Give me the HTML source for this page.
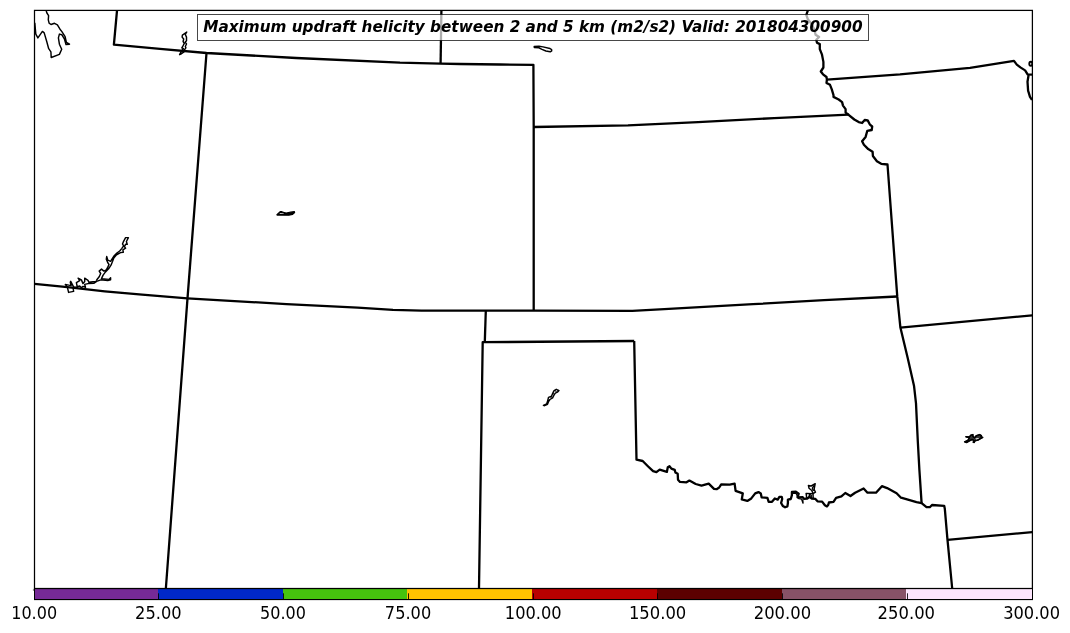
<!DOCTYPE html>
<html><head><meta charset="utf-8"><title>Maximum updraft helicity</title>
<style>
html,body{margin:0;padding:0;background:#fff;}
body{width:1070px;height:633px;position:relative;overflow:hidden;}
</style></head><body>
<svg width="1070" height="633" viewBox="0 0 1070 633" style="position:absolute;left:0;top:0">
<defs><clipPath id="ax"><rect x="34.5" y="10.5" width="998" height="578"/></clipPath></defs>
<g clip-path="url(#ax)" fill="none" stroke="#000" stroke-linejoin="round" stroke-linecap="butt">
<g stroke-width="2.3">
<path d="M117.0,10.6 L113.9,44.7 L160.0,48.8 L206.5,53.0 L296.2,58.0 L400.0,62.7 L420.0,63.1 L440.6,63.6 L460.0,64.0 L500.0,64.5 L533.4,64.8 L533.7,127.0 L533.7,310.7"/>
<path d="M206.5,53.0 L187.5,298.3 L165.9,588.0"/>
<path d="M441.4,10.5 L440.6,63.6"/>
<path d="M34.5,283.9 L67.4,287.2 L104.8,291.3 L142.1,294.7 L187.4,298.3 L286.5,304.1 L357.6,307.7 L393.0,309.8 L421.5,310.6 L485.6,310.7 L535.0,310.7 L632.3,310.8 L664.3,309.2 L753.0,304.2 L824.0,300.2 L897.1,296.5"/>
<path d="M533.8,127.0 L628.0,125.4 L698.0,122.2 L774.2,118.1 L848.6,114.6"/>
<path d="M485.8,310.7 L484.8,341.8"/>
<path d="M634.2,341.0 L482.7,342.2 L479.0,588.0"/>
<path d="M634.2,341.0 L636.5,459.7 L642.7,461.0 L647.9,466.2 L653.1,471.2 L656.4,472.1 L659.7,469.6 L666.9,471.8 L667.8,467.2 L669.5,466.2 L671.4,468.6 L674.7,469.9 L675.4,472.5 L677.7,473.8 L678.0,479.7 L680.0,481.9 L686.5,482.3 L689.4,480.6 L695.7,484.0 L701.5,485.6 L708.7,483.7 L714.0,488.8 L716.6,489.2 L719.2,487.5 L721.2,484.3 L729.7,484.6 L734.6,483.6 L735.6,490.8 L742.8,493.4 L741.8,499.3 L747.3,500.9 L751.3,498.4 L755.2,493.4 L758.5,492.1 L760.8,493.4 L761.6,497.3 L767.4,497.9 L768.7,501.9 L772.0,501.8 L774.8,498.5 L777.7,499.6 L779.4,496.8 L781.7,496.8 L782.2,499.0 L781.1,503.0 L782.8,505.9 L785.1,507.3 L787.4,506.4 L787.9,503.0 L787.9,499.6 L790.8,499.0 L791.9,495.1 L791.9,491.9 L795.9,491.7 L798.7,493.6 L797.6,497.3 L802.7,497.1 L803.9,498.8 L807.3,498.5 L809.5,496.8 L811.8,498.5 L815.2,498.8 L817.5,501.3 L822.1,501.6 L824.9,505.3 L826.9,506.4 L828.3,504.7 L828.9,502.5 L833.5,501.8 L836.1,497.9 L841.4,496.4 L845.3,493.0 L850.5,496.0 L855.1,492.7 L863.6,488.5 L867.5,492.7 L876.0,492.7 L881.9,486.2 L887.1,488.1 L896.6,493.2 L901.0,497.7 L908.8,499.9 L916.5,502.1 L921.6,503.2 L926.5,507.2 L929.8,507.2 L932.0,505.0 L944.2,505.8 L944.8,508.7 L947.5,539.9 L952.2,588.5"/>
<path d="M947.5,539.9 L1032.2,532.1"/>
<path d="M807.8,10.7 L806.3,14.9 L807.8,19.2 L811.3,23.5 L814.2,29.2 L815.6,34.8 L819.1,37.0 L816.3,39.8 L817.0,42.7 L819.8,44.1 L819.8,49.1 L822.0,54.7 L823.4,61.9 L823.4,67.5 L820.8,71.5 L823.0,74.3 L826.5,77.0 L826.9,79.6 L826.5,83.0 L830.0,84.8 L831.7,89.1 L833.5,95.2 L833.5,96.9 L838.7,99.5 L842.1,102.1 L843.0,105.6 L845.6,109.1 L845.6,112.6 L848.6,114.8 L854.3,119.5 L858.7,122.1 L862.1,123.0 L864.7,120.0 L867.7,120.4 L870.0,124.7 L872.2,126.5 L871.7,130.0 L867.3,130.8 L865.6,136.9 L862.1,141.2 L863.9,144.7 L868.2,149.1 L872.6,151.7 L872.9,156.0 L876.9,161.2 L881.2,163.8 L887.5,164.5 L897.3,296.9 L900.4,327.6 L907.7,357.9 L914.0,385.7 L916.0,403.4 L917.8,441.3 L919.4,470.0 L921.6,503.2"/>
<path d="M826.9,79.6 L900.0,74.4 L970.0,67.8 L1014.0,60.9 L1016.8,64.6 L1020.4,67.4 L1025.1,70.4 L1027.6,74.4 L1032.0,74.6"/>
<path d="M900.4,327.6 L1032.2,315.3"/>
<path d="M1028.6,75.0 L1027.5,81.7 L1028.1,90.6 L1030.0,96.9 L1032.0,100.0"/>
</g><g stroke-width="1.45">
<path d="M46.2,10.8 L46.9,13.0 L48.6,15.6 L48.3,19.9 L49.1,23.2 L51.0,24.5 L54.5,23.3 L57.4,24.8 L60.0,29.2 L61.9,31.6 L65.1,36.7 L66.4,42.4 L69.5,44.2 L66.0,44.5 L64.5,39.2 L61.9,34.8 L59.4,34.1 L58.4,37.9 L59.4,44.2 L61.7,49.3 L59.4,54.4 L51.2,57.5 L50.9,51.8 L48.7,48.7 L46.8,41.7 L44.2,32.9 L42.4,31.4 L37.9,37.9 L35.8,34.1 L34.8,22.8"/>
<path d="M186.8,32.0 L182.4,35.2 L182.1,37.1 L183.7,39.0 L183.1,41.5 L184.3,43.4 L182.7,46.5 L181.8,47.8 L183.4,48.7 L181.5,51.0 L179.6,54.7 L180.8,54.1 L184.3,51.6 L184.6,49.7 L185.9,47.8 L185.3,46.5 L186.5,44.0 L185.3,42.1 L186.5,40.8 L186.5,37.1 L185.3,34.5 Z"/>
<path d="M125.6,237.6 L128.4,237.6 L126.4,241.5 L127.2,244.3 L125.6,244.3 L124.4,246.6 L125.6,248.2 L122.9,249.8 L123.3,252.2 L120.5,252.6 L116.5,254.9 L113.8,258.1 L112.6,261.3 L111.0,265.2 L108.6,268.8 L105.5,271.9 L103.1,275.1 L101.5,278.6 L109.0,279.4 L110.6,277.8 L110.6,279.8 L107.8,280.6 L100.7,279.9 L98.1,280.9 L95.0,281.5 L88.8,282.3 L88.0,280.3 L84.7,278.2 L84.7,281.5 L83.0,283.6 L81.4,279.9 L78.1,278.2 L79.7,280.7 L76.4,282.7 L77.3,287.3 L73.6,286.9 L70.7,281.3 L70.3,282.3 L71.1,285.6 L65.3,284.4 L67.4,287.3 L68.6,292.4 L73.6,291.4 L73.2,288.5 L75.0,288.0 L78.1,286.4 L79.7,286.0 L81.4,287.7 L83.0,286.4 L85.5,287.3 L84.7,284.4 L88.0,283.6 L94.1,283.2 L97.0,281.1 L96.8,279.8 L99.2,276.7 L100.7,273.5 L99.2,271.1 L101.5,269.1 L103.9,271.1 L106.3,269.9 L107.8,267.2 L109.0,264.4 L107.8,262.8 L106.3,259.3 L106.7,256.5 L107.8,260.1 L110.6,261.3 L111.8,259.3 L114.2,255.7 L116.9,253.0 L119.7,251.0 L121.7,248.6 L123.6,245.8 L122.5,243.9 L123.3,241.9 Z"/>
<path d="M534.2,46.5 L539.0,46.2 L543.0,46.9 L550.0,48.5 L551.6,49.6 L551.7,50.8 L550.2,51.8 L545.9,51.0 L542.0,49.4 L538.9,47.9 L534.3,47.5 Z"/>
<path d="M543.4,405.4 L546.7,403.8 L547.7,400.6 L548.5,397.4 L551.5,396.3 L552.6,393.6 L553.9,390.9 L556.3,389.3 L559.0,390.6 L557.4,392.2 L555.3,393.1 L553.7,395.7 L552.6,397.9 L549.9,399.5 L548.5,401.7 L547.5,404.3 L544.5,405.7 Z"/>
<path d="M801.6,499.0 L803.0,503.0 L802.7,499.6"/>
<path d="M806.7,497.9 L806.1,493.4 L813.0,493.6 L813.2,498.5"/>
<path d="M808.9,497.9 L809.5,494.5 L811.2,495.1 L811.2,497.9"/>
<path d="M813.0,493.6 L815.5,492.2 L814.1,489.4 L815.2,483.7 L811.2,486.0 L808.4,485.4 L809.0,488.2 L811.8,490.5 Z"/>
<path d="M814.1,485.4 L812.4,488.2 L813.5,491.1"/>
<path d="M791.9,493.4 L795.9,493.1 L797.0,495.0 L797.6,497.3 L799.0,498.6 L801.6,499.0"/>
<path d="M964.6,441.8 L967.8,440.4 L969.5,437.8 L965.9,436.7 L969.5,436.9 L970.8,435.2 L972.9,434.6 L972.9,436.5 L974.6,437.8 L976.3,435.7 L979.7,434.6 L981.4,435.7 L981.0,436.9 L982.7,437.4 L980.6,438.6 L978.0,440.1 L975.0,440.8 L974.2,442.5 L973.3,442.3 L973.8,440.4 L972.1,439.5 L969.5,440.8 L966.5,442.5 Z"/>
<path d="M276.9,214.7 L280.2,211.6 L281.6,211.5 L282.4,212.2 L286.2,213.0 L290.7,212.2 L294.4,211.5 L294.6,212.5 L292.6,214.4 L288.8,215.2 L277.2,215.1 Z" fill="#000" stroke-width="1.2"/>
<path d="M279.9,213.3 L283.6,213.2 L283.8,213.8 L281,214.0 L279.6,213.9 Z" fill="#fff" stroke="none"/>
<path d="M964.6,441.8 L967.8,440.4 L969.5,437.8 L965.9,436.7 L969.5,436.9 L970.8,435.2 L972.9,434.6 L972.9,436.5 L974.6,437.8 L976.3,435.7 L979.7,434.6 L981.4,435.7 L981.0,436.9 L982.7,437.4 L980.6,438.6 L978.0,440.1 L975.0,440.8 L974.2,442.5 L973.3,442.3 L973.8,440.4 L972.1,439.5 L969.5,440.8 L966.5,442.5 Z" fill="#000" fill-opacity="0.8" stroke-width="1.1"/>
<path d="M975.3,438.5 L978.6,437.9 L979,438.6 L976.3,439.5 Z" fill="#fff" stroke="none"/>
<path d="M554.8,390.4 L556.4,391.9 L558.2,390.4 M552.9,393.5 L554.4,394.3 M550.3,397 L551.8,398" stroke-width="1"/>
<ellipse cx="1030.8" cy="63.8" rx="1.5" ry="2.1" stroke-width="1.9"/>
</g></g>
<rect x="34" y="588.5" width="124.5" height="11" fill="#762a96"/>
<rect x="158" y="588.5" width="125.5" height="11" fill="#0028c8"/>
<rect x="283" y="588.5" width="124.5" height="11" fill="#46c40e"/>
<rect x="407" y="588.5" width="125.5" height="11" fill="#ffc400"/>
<rect x="532" y="588.5" width="125.5" height="11" fill="#b80000"/>
<rect x="657" y="588.5" width="125.5" height="11" fill="#5c0000"/>
<rect x="782" y="588.5" width="124.5" height="11" fill="#875267"/>
<rect x="906" y="588.5" width="126.5" height="11" fill="#fce4fc"/>
<rect x="158" y="593.3" width="1" height="6" fill="#000" opacity="0.85"/>
<rect x="283" y="593.3" width="1" height="6" fill="#000" opacity="0.85"/>
<rect x="408" y="593.3" width="1" height="6" fill="#000" opacity="0.85"/>
<rect x="533" y="593.3" width="1" height="6" fill="#000" opacity="0.85"/>
<rect x="657" y="593.3" width="1" height="6" fill="#000" opacity="0.85"/>
<rect x="782" y="593.3" width="1" height="6" fill="#000" opacity="0.85"/>
<rect x="907" y="593.3" width="1" height="6" fill="#000" opacity="0.85"/>
<rect x="34.5" y="588.5" width="998" height="11" fill="none" stroke="#000" stroke-width="1"/>
<rect x="34" y="600" width="999" height="0.9" fill="#000" opacity="0.13"/>
<rect x="32.9" y="588.9" width="1.2" height="2" fill="#000" opacity="0.45"/>
<rect x="34.5" y="10.4" width="997.9" height="578.1" fill="none" stroke="#000" stroke-width="1.25"/>
<rect x="197.5" y="14.5" width="671" height="26" fill="#fff" fill-opacity="0.68" stroke="#000" stroke-opacity="0.72" stroke-width="1"/>
<text x="203.2" y="31.9" font-family="'DejaVu Sans', 'Liberation Sans', sans-serif" font-weight="bold" font-style="oblique" font-size="15.28">Maximum updraft helicity between 2 and 5 km (m2/s2) Valid: 201804300900</text>
<text transform="translate(34.15,619.1) scale(0.9620,1.085)" x="0" y="0" text-anchor="middle" font-family="'DejaVu Sans', 'Liberation Sans', sans-serif" font-size="16.67">10.00</text>
<text transform="translate(158.35,619.1) scale(0.9750,1.085)" x="0" y="0" text-anchor="middle" font-family="'DejaVu Sans', 'Liberation Sans', sans-serif" font-size="16.67">25.00</text>
<text transform="translate(283.00,619.1) scale(0.9620,1.085)" x="0" y="0" text-anchor="middle" font-family="'DejaVu Sans', 'Liberation Sans', sans-serif" font-size="16.67">50.00</text>
<text transform="translate(408.05,619.1) scale(0.9720,1.085)" x="0" y="0" text-anchor="middle" font-family="'DejaVu Sans', 'Liberation Sans', sans-serif" font-size="16.67">75.00</text>
<text transform="translate(533.25,619.1) scale(0.9750,1.085)" x="0" y="0" text-anchor="middle" font-family="'DejaVu Sans', 'Liberation Sans', sans-serif" font-size="16.67">100.00</text>
<text transform="translate(657.60,619.1) scale(0.9850,1.085)" x="0" y="0" text-anchor="middle" font-family="'DejaVu Sans', 'Liberation Sans', sans-serif" font-size="16.67">150.00</text>
<text transform="translate(782.45,619.1) scale(0.9850,1.085)" x="0" y="0" text-anchor="middle" font-family="'DejaVu Sans', 'Liberation Sans', sans-serif" font-size="16.67">200.00</text>
<text transform="translate(906.30,619.1) scale(0.9850,1.085)" x="0" y="0" text-anchor="middle" font-family="'DejaVu Sans', 'Liberation Sans', sans-serif" font-size="16.67">250.00</text>
<text transform="translate(1031.55,619.1) scale(0.9750,1.085)" x="0" y="0" text-anchor="middle" font-family="'DejaVu Sans', 'Liberation Sans', sans-serif" font-size="16.67">300.00</text>
</svg>
</body></html>
